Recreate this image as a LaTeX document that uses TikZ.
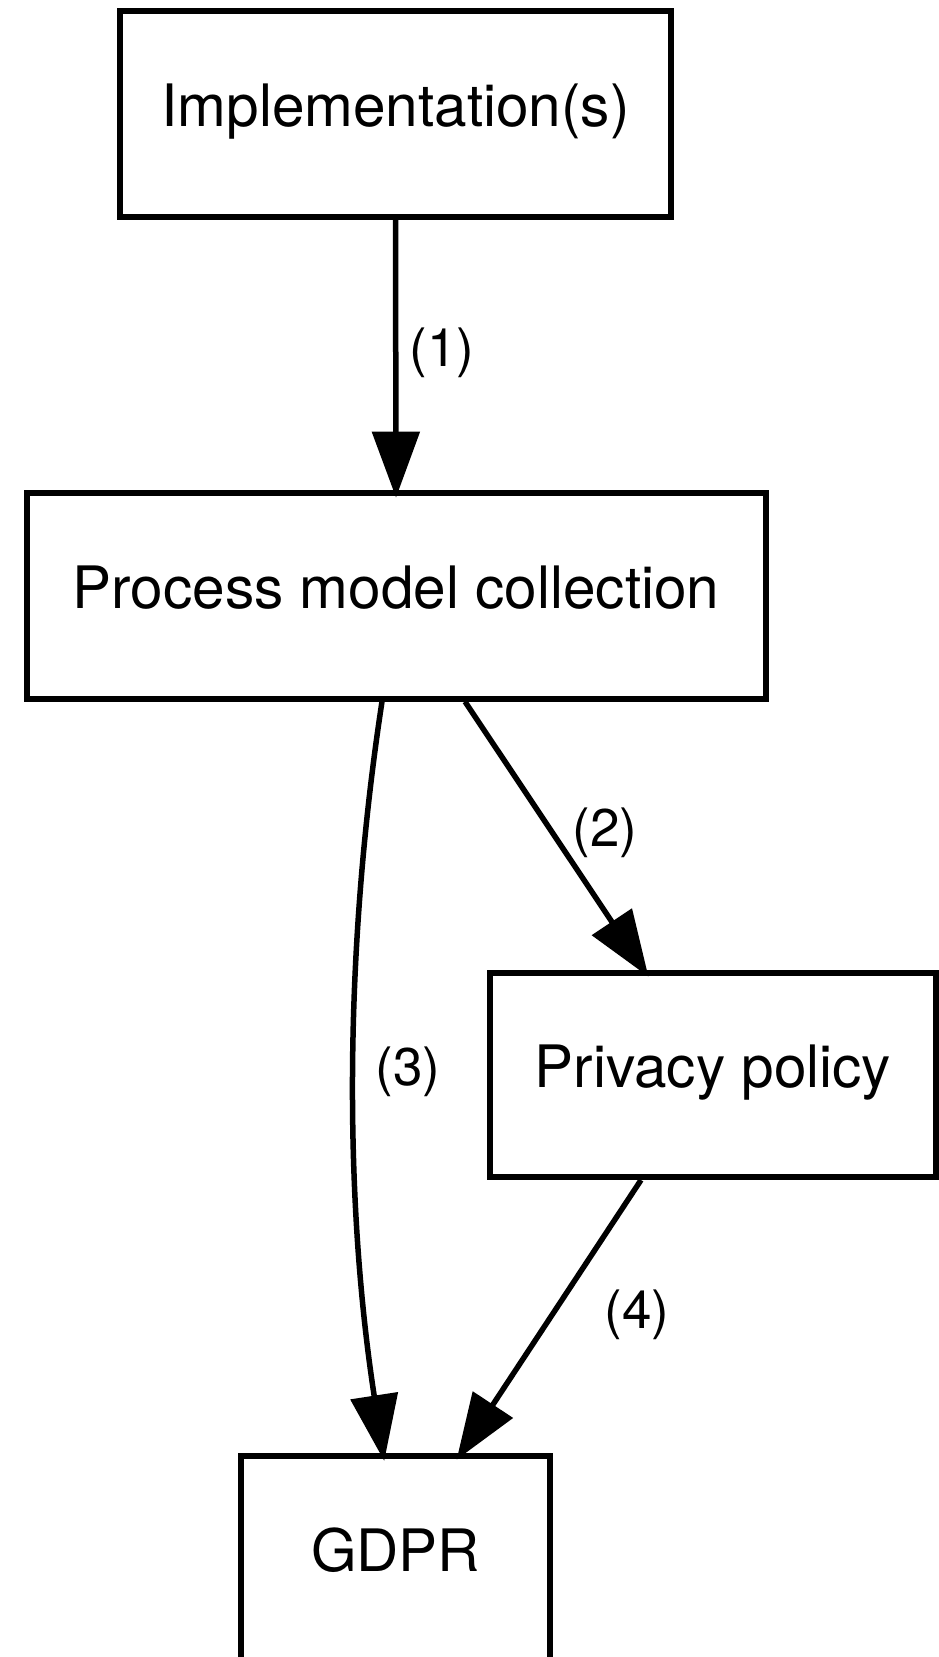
\documentclass[tikz,border=0pt]{standalone}
\usepackage{fontspec}
\setmainfont{TeX Gyre Heros}
\usetikzlibrary{arrows.meta}

\tikzset{
  box/.style={draw, line width=6pt, rectangle, inner sep=0pt,
    minimum height=206pt, text height=44pt, text depth=19pt,
    font=\fontsize{58.5}{70}\selectfont},
  edgelabel/.style={inner sep=0pt, font=\fontsize{53}{62}\selectfont},
  link/.style={line width=5.5pt, shorten >=-8pt,
    -{Triangle[length=66pt, width=47pt]}},
}

\begin{document}
\begin{tikzpicture}[x=1pt, y=-1pt]
  \useasboundingbox (0,0) rectangle (939,1657);

  % boxes
  \node[box, minimum width=551pt] (impl) at (395.5,113.5) {Implementation(s)};
  \node[box, minimum width=739pt] (pmc)  at (396,595.6)   {Process model collection};
  \node[box, minimum width=446pt, minimum height=204pt] (pp) at (713,1075) {Privacy policy};
  \node[box, minimum width=309pt] (gdpr) at (395.5,1559) {GDPR};

  % connectors
  \draw[link] (impl.south) -- (pmc.north);
  \draw[link] ([xshift=69pt]pmc.south) -- ([xshift=-69pt]pp.north);
  \draw[link] ([xshift=-14pt]pmc.south)
      .. controls (344,950) and (344,1200) .. ([xshift=-12.5pt]gdpr.north);
  \draw[link] ([xshift=-72pt]pp.south) -- ([xshift=65.5pt]gdpr.north);

  % edge labels
  \node[edgelabel] (l1) at (442,352.5) {(1)};
  \node[edgelabel] (l2) at (605,833)   {(2)};
  \node[edgelabel] (l3) at (408,1072)  {(3)};
  \node[edgelabel] (l4) at (637,1315)  {(4)};
\end{tikzpicture}
\end{document}
